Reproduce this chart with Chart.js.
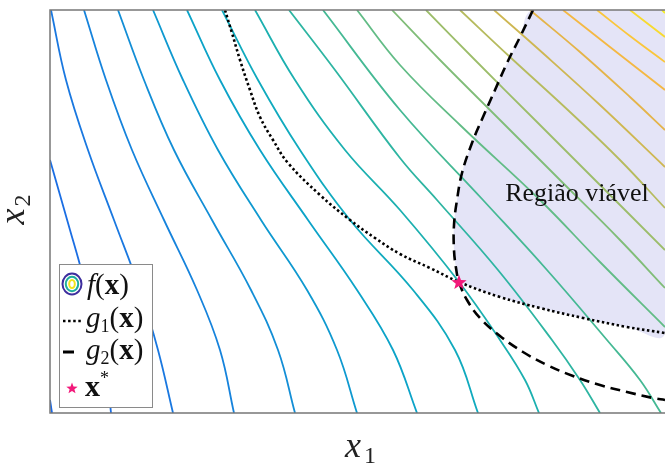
<!DOCTYPE html>
<html lang="pt">
<head>
<meta charset="UTF-8" />
<title>Otimização com restrições</title>
<script src="https://cdn.jsdelivr.net/npm/chart.js"></script>
<style>
  html, body { margin: 0; padding: 0; overflow: hidden; background: #fff; }
  canvas { display: block; }
</style>
</head>
<body>
<canvas id="grafico" width="665" height="464"></canvas>
<script>
// curvas de nível de f(x), da mais baixa para a mais alta (pares [x1, x2])
const curvasNivel = [
  [[0, 0.13], [0.02, 0]],
  [[0, 2.53], [0.10, 2.18], [0.20, 1.83], [0.30, 1.48], [0.42, 1.03], [0.52, 0.58], [0.58, 0.28], [0.61, 0]],
  [[0.01, 4.03], [0.16, 3.33], [0.38, 2.63], [0.64, 1.93], [0.90, 1.23], [1.08, 0.63], [1.23, 0]],
  [[0.34, 4.03], [0.56, 3.33], [0.82, 2.63], [1.14, 1.93], [1.47, 1.23], [1.70, 0.63], [1.84, 0]],
  [[0.68, 4.03], [0.94, 3.33], [1.24, 2.63], [1.62, 1.93], [2.01, 1.23], [2.28, 0.63], [2.45, 0]],
  [[1.03, 4.03], [1.33, 3.33], [1.68, 2.63], [2.11, 1.93], [2.57, 1.23], [2.87, 0.63], [3.07, 0]],
  [[1.37, 4.03], [1.70, 3.33], [2.10, 2.63], [2.58, 1.93], [3.07, 1.23], [3.43, 0.63], [3.67, 0]],
  [[1.72, 4.03], [2.08, 3.33], [2.50, 2.63], [3.00, 1.93], [3.63, 1.23], [4.05, 0.63], [4.28, 0]],
  [[2.05, 4.03], [2.45, 3.33], [2.95, 2.63], [3.50, 2.03], [4.09, 1.31], [4.50, 0.73], [4.75, 0.33], [4.89, 0]],
  [[2.39, 4.03], [2.85, 3.43], [3.50, 2.55], [3.87, 2.13], [4.48, 1.43], [5.02, 0.73], [5.30, 0.33], [5.50, 0]],
  [[2.73, 4.03], [3.50, 3.03], [4.33, 2.13], [4.97, 1.43], [5.57, 0.73], [5.90, 0.33], [6.11, 0]],
  [[3.07, 4.03], [3.50, 3.48], [4.10, 2.88], [4.90, 2.13], [5.50, 1.51], [6.15, 0.86]],
  [[3.42, 4.03], [3.90, 3.53], [4.50, 2.93], [5.10, 2.33], [5.70, 1.73], [6.15, 1.25]],
  [[3.76, 4.03], [4.25, 3.53], [4.85, 2.93], [5.50, 2.28], [6.15, 1.63]],
  [[4.10, 4.03], [4.60, 3.56], [5.20, 3.01], [5.70, 2.53], [6.15, 2.05]],
  [[4.44, 4.03], [4.95, 3.58], [5.50, 3.08], [6.15, 2.46]],
  [[4.80, 4.03], [5.30, 3.61], [5.80, 3.16], [6.15, 2.83]],
  [[5.13, 4.03], [5.60, 3.66], [6.15, 3.23]],
  [[5.47, 4.03], [5.80, 3.77], [6.15, 3.51]],
  [[5.80, 4.03], [6.15, 3.76]],
  [[6.12, 4.03], [6.15, 4.00]]
];

const coresNivel = [
  '#1a68e6', '#1b6ee3', '#1a78e0', '#1683dc', '#138ed6', '#0f99d0', '#0ca3c8',
  '#10aabe', '#1cb0b0', '#2eb5a2', '#45b994', '#62bc86', '#80bd78', '#9cbd6a',
  '#b6bb5e', '#ceb752', '#e4b449', '#f4b843', '#fac63b', '#f7da2f', '#f6ee1e'
];

// restrição g1(x) (pontilhada)
const curvaG1 = [
  [1.75, 4.03], [1.82, 3.80], [1.90, 3.53], [2.00, 3.23], [2.10, 2.96], [2.23, 2.73],
  [2.38, 2.50], [2.70, 2.18], [3.00, 1.93], [3.25, 1.75], [3.50, 1.59], [3.80, 1.45],
  [4.09, 1.31], [4.50, 1.16], [4.90, 1.05], [5.33, 0.95], [5.77, 0.86], [6.15, 0.80]
];

// restrição g2(x) (tracejada)
const curvaG2 = [
  [4.83, 4.03], [4.70, 3.76], [4.57, 3.50], [4.45, 3.23], [4.33, 2.96], [4.22, 2.70],
  [4.12, 2.40], [4.07, 2.13], [4.04, 1.88], [4.04, 1.63], [4.06, 1.45], [4.09, 1.31],
  [4.17, 1.13], [4.30, 0.95], [4.50, 0.77], [4.73, 0.61], [4.97, 0.48], [5.23, 0.37],
  [5.50, 0.28], [5.77, 0.21], [6.03, 0.15], [6.15, 0.13]
];

// ótimo x*
const pontoOtimo = [4.09, 1.31];
const limitesX = [0, 6.15];
const limitesY = [0, 4.03];

const pontos = (lista) => lista.map(([x, y]) => ({ x, y }));

// região viável: sobe por g2 desde x*, fecha no canto e volta por g1
const iOtimoG1 = 12;
const iOtimoG2 = 11;
const regiaoViavel = [
  ...curvaG2.slice(0, iOtimoG2 + 1).reverse(),
  [limitesX[1] + 0.3, limitesY[1] + 0.3],
  ...curvaG1.slice(iOtimoG1).reverse()
];

function estrela(raio, cor) {
  const c = document.createElement('canvas');
  const t = Math.ceil(raio * 2 + 2);
  c.width = c.height = t;
  const g = c.getContext('2d');
  g.translate(t / 2, t / 2 + raio * 0.08);
  g.beginPath();
  for (let k = 0; k < 10; k++) {
    const r = k % 2 === 0 ? raio : raio * 0.42;
    const a = -Math.PI / 2 + k * Math.PI / 5;
    g.lineTo(r * Math.cos(a), r * Math.sin(a));
  }
  g.closePath();
  g.fillStyle = cor;
  g.fill();
  return c;
}

const corEstrela = '#f2197a';
const serif = '"Liberation Serif", "Times New Roman", serif';

const datasets = [
  {
    data: [{ x: pontoOtimo[0], y: pontoOtimo[1] }],
    pointStyle: estrela(8, corEstrela),
    pointRadius: 8,
    order: 0
  },
  {
    data: pontos(curvaG1),
    showLine: true, pointRadius: 0, tension: 0.4,
    borderColor: '#000', borderWidth: 2.6, borderDash: [2.5, 2.6],
    order: 1
  },
  {
    data: pontos(curvaG2),
    showLine: true, pointRadius: 0, tension: 0.4,
    borderColor: '#000', borderWidth: 2.6, borderDash: [10, 6],
    order: 1
  },
  ...curvasNivel.map((curva, i) => ({
    data: pontos(curva),
    showLine: true, pointRadius: 0, tension: 0.4,
    borderColor: coresNivel[i], borderWidth: 1.8,
    order: 2
  })),
  {
    data: pontos(regiaoViavel),
    showLine: true, pointRadius: 0, tension: 0.4,
    borderWidth: 0, borderColor: 'rgba(0,0,0,0)',
    backgroundColor: 'rgb(228,228,247)', fill: 'shape',
    order: 3
  }
];

// moldura, rótulos dos eixos, texto da região e legenda
const decoracao = {
  id: 'decoracao',
  afterDatasetsDraw(chart) {
    const { ctx, chartArea: a } = chart;
    ctx.save();
    ctx.fillStyle = '#111';
    ctx.font = `26px ${serif}`;
    ctx.textAlign = 'center';
    ctx.textBaseline = 'alphabetic';
    ctx.fillText('Região viável', 577, 201);

    ctx.strokeStyle = '#777';
    ctx.lineWidth = 1.5;
    ctx.beginPath();
    ctx.moveTo(a.right, a.top);
    ctx.lineTo(a.left, a.top);
    ctx.lineTo(a.left, a.bottom);
    ctx.lineTo(a.right, a.bottom);
    ctx.stroke();
    ctx.restore();
  },
  afterDraw(chart) {
    const { ctx, chartArea: a } = chart;
    ctx.save();
    ctx.fillStyle = '#222';
    ctx.textBaseline = 'alphabetic';
    ctx.textAlign = 'left';

    // x1
    ctx.font = `italic 36px ${serif}`;
    ctx.fillText('x', 345, 457);
    ctx.font = `24px ${serif}`;
    ctx.fillText('1', 364, 463);

    // x2
    ctx.save();
    ctx.translate(24, (a.top + a.bottom) / 2);
    ctx.rotate(-Math.PI / 2);
    ctx.font = `italic 36px ${serif}`;
    ctx.fillText('x', -13, 0);
    ctx.font = `24px ${serif}`;
    ctx.fillText('2', 5, 6);
    ctx.restore();

    // legenda
    const bx = 59, by = 264, bw = 93, bh = 143;
    ctx.fillStyle = '#fff';
    ctx.fillRect(bx, by, bw, bh);
    ctx.strokeStyle = '#8a8a8a';
    ctx.lineWidth = 1;
    ctx.strokeRect(bx + 0.5, by + 0.5, bw, bh);

    // ícone das curvas de nível
    const aneis = [[9.5, 10.5, '#3d2e9e'], [6.2, 7.2, '#1fae9e'], [2.8, 4, '#f2e51d']];
    ctx.lineWidth = 2;
    aneis.forEach(([rx, ry, cor]) => {
      ctx.strokeStyle = cor;
      ctx.beginPath();
      ctx.ellipse(72, 284, rx, ry, 0, 0, Math.PI * 2);
      ctx.stroke();
    });

    const tx = 86;
    const escreve = (partes, x, y) => {
      partes.forEach(([txt, fonte, dy]) => {
        ctx.font = fonte;
        ctx.fillText(txt, x, y + (dy || 0));
        x += ctx.measureText(txt).width;
      });
    };
    ctx.fillStyle = '#111';
    const ital = `italic 29px ${serif}`;
    const reto = `29px ${serif}`;
    const negr = `bold 29px ${serif}`;
    const sub = `18px ${serif}`;
    escreve([['f', ital], ['(', reto], ['x', negr], [')', reto]], tx + 1, 294);
    escreve([['g', ital], ['1', sub, 5], ['(', reto], ['x', negr], [')', reto]], tx, 327);
    escreve([['g', ital], ['2', sub, 5], ['(', reto], ['x', negr], [')', reto]], tx, 359);
    escreve([['x', `bold 30px ${serif}`], ['*', `18px ${serif}`, -12]], tx - 1, 396);

    // amostras de g1 e g2
    ctx.strokeStyle = '#000';
    ctx.lineWidth = 2.6;
    ctx.setLineDash([2.5, 2.6]);
    ctx.beginPath();
    ctx.moveTo(63, 321);
    ctx.lineTo(82, 321);
    ctx.stroke();
    ctx.setLineDash([]);
    ctx.lineWidth = 3;
    ctx.beginPath();
    ctx.moveTo(63, 352);
    ctx.lineTo(74, 352);
    ctx.stroke();

    const mini = estrela(6, corEstrela);
    ctx.drawImage(mini, 72 - mini.width / 2, 388 - mini.height / 2);
    ctx.restore();
  }
};

new Chart(document.getElementById('grafico'), {
  type: 'scatter',
  data: { datasets },
  options: {
    responsive: false,
    animation: false,
    layout: { autoPadding: false, padding: { left: 50, top: 10, right: 0, bottom: 51 } },
    scales: {
      x: { type: 'linear', min: limitesX[0], max: limitesX[1], display: false },
      y: { type: 'linear', min: limitesY[0], max: limitesY[1], display: false }
    },
    plugins: {
      legend: { display: false },
      tooltip: { enabled: false }
    }
  },
  plugins: [decoracao]
});
</script>
</body>
</html>
